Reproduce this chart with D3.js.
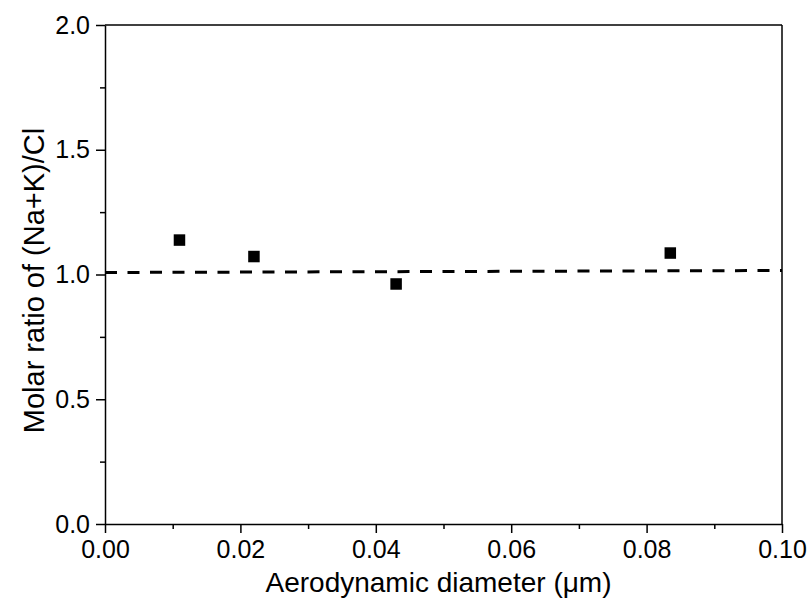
<!DOCTYPE html>
<html>
<head>
<meta charset="utf-8">
<script src="https://cdn.jsdelivr.net/npm/d3@7"></script>
<style>
  body { margin: 0; background: #fff; }
  svg text { font-family: Arial, "Liberation Sans", sans-serif; fill: #000; }
</style>
</head>
<body>
<div id="chart"></div>
<script>
// Dados
const diameters = [0.011, 0.022, 0.043, 0.0835];
const ratios = [1.138, 1.072, 0.962, 1.086];
const fitX = [0, 0.1];
const fitY = [1.008, 1.016];
const xTicks = [0, 0.02, 0.04, 0.06, 0.08, 0.10];
const yTicks = [0, 0.5, 1.0, 1.5, 2.0];

const W = 811, H = 598;
const margin = { top: 25, right: 29, bottom: 74, left: 105 };
const width = W - margin.left - margin.right;
const height = H - margin.top - margin.bottom;

const svg = d3.select('#chart')
  .append('svg')
  .attr('width', W)
  .attr('height', H);

const g = svg.append('g')
  .attr('transform', `translate(${margin.left},${margin.top})`);

// Escalas
const x = d3.scaleLinear().domain([0, 0.1]).range([0, width]);
const y = d3.scaleLinear().domain([0, 2.0]).range([height, 0]);

// Moldura (topo e direita)
g.append('line')
  .attr('x1', 0).attr('x2', width).attr('y1', 0).attr('y2', 0)
  .attr('stroke', '#000').attr('stroke-width', 1.5);
g.append('line')
  .attr('x1', width).attr('x2', width).attr('y1', 0).attr('y2', height)
  .attr('stroke', '#000').attr('stroke-width', 1.5);

// Ticks menores
const xMinor = d3.range(0, 11).map(i => i / 100).filter(v => Math.round(v * 100) % 2 === 1);
const yMinor = d3.range(0, 9).map(i => i * 0.25).filter(v => Math.round(v * 4) % 2 === 1);

g.append('g')
  .attr('transform', `translate(0,${height})`)
  .call(d3.axisBottom(x).tickValues(xMinor).tickSize(5).tickFormat(''))
  .call(a => a.select('.domain').remove())
  .selectAll('line').attr('stroke-width', 1.5);

g.append('g')
  .call(d3.axisLeft(y).tickValues(yMinor).tickSize(5).tickFormat(''))
  .call(a => a.select('.domain').remove())
  .selectAll('line').attr('stroke-width', 1.5);

// Eixos
const xAxis = g.append('g')
  .attr('transform', `translate(0,${height})`)
  .call(d3.axisBottom(x).tickValues(xTicks).tickSize(9).tickSizeOuter(0).tickPadding(7)
    .tickFormat(d3.format('.2f')));
xAxis.select('.domain').attr('stroke-width', 1.5);
xAxis.selectAll('.tick line').attr('stroke-width', 1.5);
xAxis.selectAll('text').style('font-size', '25px');

const yAxis = g.append('g')
  .call(d3.axisLeft(y).tickValues(yTicks).tickSize(9).tickSizeOuter(0).tickPadding(6)
    .tickFormat(d3.format('.1f')));
yAxis.select('.domain').attr('stroke-width', 1.5);
yAxis.selectAll('.tick line').attr('stroke-width', 1.5);
yAxis.selectAll('text').style('font-size', '25px');

// Títulos dos eixos
g.append('text')
  .attr('x', width / 2 - 5)
  .attr('y', height + 68)
  .style('text-anchor', 'middle')
  .style('font-size', '28px')
  .text('Aerodynamic diameter (\u03BCm)');

g.append('text')
  .attr('transform', `translate(${44 - margin.left},${height / 2 + 6}) rotate(-90)`)
  .style('text-anchor', 'middle')
  .style('font-size', '29px')
  .text('Molar ratio of (Na+K)/Cl');

// Linha tracejada
g.append('path')
  .datum(fitX.map((v, i) => [v, fitY[i]]))
  .attr('d', d3.line().x(d => x(d[0])).y(d => y(d[1])))
  .attr('fill', 'none')
  .attr('stroke', '#000')
  .attr('stroke-width', 3)
  .attr('stroke-dasharray', '12,10.5');

// Pontos
const side = 11.5;
g.selectAll('.pt')
  .data(diameters.map((v, i) => ({ d: v, r: ratios[i] })))
  .enter()
  .append('rect')
  .attr('class', 'pt')
  .attr('x', d => x(d.d) - side / 2)
  .attr('y', d => y(d.r) - side / 2)
  .attr('width', side)
  .attr('height', side)
  .attr('fill', '#000');
</script>
</body>
</html>
